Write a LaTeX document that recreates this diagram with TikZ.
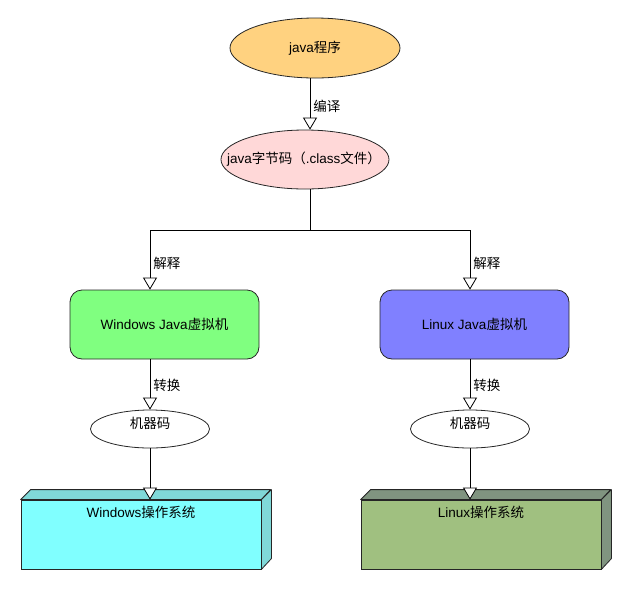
\documentclass[tikz,border=0pt]{standalone}
\usepackage{fontspec}
\setmainfont{Liberation Sans}
\newfontfamily\cjk{Noto Sans CJK SC}
\usetikzlibrary{shapes.geometric,arrows.meta}
\definecolor{progfill}{RGB}{255,210,128}
\definecolor{bcfill}{RGB}{255,216,216}
\definecolor{wfill}{RGB}{128,255,128}
\definecolor{lfill}{RGB}{128,128,255}
\definecolor{wosfront}{RGB}{128,255,255}
\definecolor{wosside}{RGB}{128,216,216}
\definecolor{losfront}{RGB}{160,192,128}
\definecolor{losside}{RGB}{128,148,128}
\tikzset{
  every node/.style={font=\fontsize{13.5}{16}\selectfont, text=black},
  ell/.style={ellipse, draw=black!85, line width=0.8pt, inner sep=0pt},
  jvm/.style={rectangle, rounded corners=12pt, draw=black!85, line width=0.8pt, minimum width=189pt, minimum height=69pt, inner sep=0pt},
  front/.style={rectangle, draw=black!85, line width=0.8pt, minimum width=240pt, minimum height=69pt, inner sep=0pt},
  face/.style={draw=black!85, line width=0.8pt, line join=round},
  conn/.style={draw=black, line width=0.8pt, -{Triangle[fill=white, length=12pt, width=14pt, line width=0.8pt]}},
  plain/.style={draw=black, line width=0.8pt},
  lab/.style={right, inner sep=3pt}
}
\begin{document}
\begin{tikzpicture}[x=1pt,y=-1pt]
\useasboundingbox (0,0) rectangle (630,590);
% top ellipses
\node[ell, fill=progfill, minimum width=170pt, minimum height=60pt] (prog) at (315,48) {};
\node (progt) at (315,48) {java{\cjk 程序}};
\node[ell, fill=bcfill, minimum width=168pt, minimum height=59pt] (bc) at (305,159.5) {};
\node (bct) at (304,159.5) {java{\cjk 字节码（}.class{\cjk 文件）}};
% JVM boxes
\node[jvm, fill=wfill] (wjvm) at (164.5,324.5) {Windows Java{\cjk 虚拟机}};
\node[jvm, fill=lfill] (ljvm) at (474.5,324.5) {Linux Java{\cjk 虚拟机}};
% machine code ellipses
\node[ell, fill=white, minimum width=119pt, minimum height=38pt] (wmc) at (150,429) {};
\node (wmct) at (150,423) {\cjk 机器码};
\node[ell, fill=white, minimum width=119pt, minimum height=38pt] (lmc) at (470,429) {};
\node (lmct) at (470,423) {\cjk 机器码};
% OS 3D boxes
\node[front, fill=wosfront] (wos) at (141,534.5) {};
\draw[face, fill=wosside] (wos.north west) -- ++(10,-10) -- ++(240,0) -- (wos.north east) -- cycle;
\draw[face, fill=wosside] (wos.north east) -- ++(10,-10) -- ++(0,69) -- (wos.south east) -- cycle;
\node[below=3pt] (wost) at (wos.north) {Windows{\cjk 操作系统}};
\node[front, fill=losfront] (los) at (481,534.5) {};
\draw[face, fill=losside] (los.north west) -- ++(10,-10) -- ++(240,0) -- (los.north east) -- cycle;
\draw[face, fill=losside] (los.north east) -- ++(10,-10) -- ++(0,69) -- (los.south east) -- cycle;
\node[below=3pt] (lost) at (los.north) {Linux{\cjk 操作系统}};
% connectors
\draw[conn] ([xshift=-5pt]prog.south) -- node[lab, pos=0.55] {\cjk 编译} ([xshift=-5pt]prog.south |- bc.north);
\draw[plain] ([xshift=5pt]bc.south) -- ++(0,41) coordinate (split);
\draw[conn] (split) -| node[lab, pos=0.78] {\cjk 解释} (wjvm.north -| wmc.north);
\draw[conn] (split) -| node[lab, pos=0.78] {\cjk 解释} (ljvm.north -| lmc.north);
\draw[conn] (wjvm.south -| wmc.north) -- node[lab, pos=0.52] {\cjk 转换} (wmc.north);
\draw[conn] (ljvm.south -| lmc.north) -- node[lab, pos=0.52] {\cjk 转换} (lmc.north);
\draw[conn] (wmc.south) -- (wmc.south |- wos.north);
\draw[conn] (lmc.south) -- (lmc.south |- los.north);
\end{tikzpicture}
\end{document}
